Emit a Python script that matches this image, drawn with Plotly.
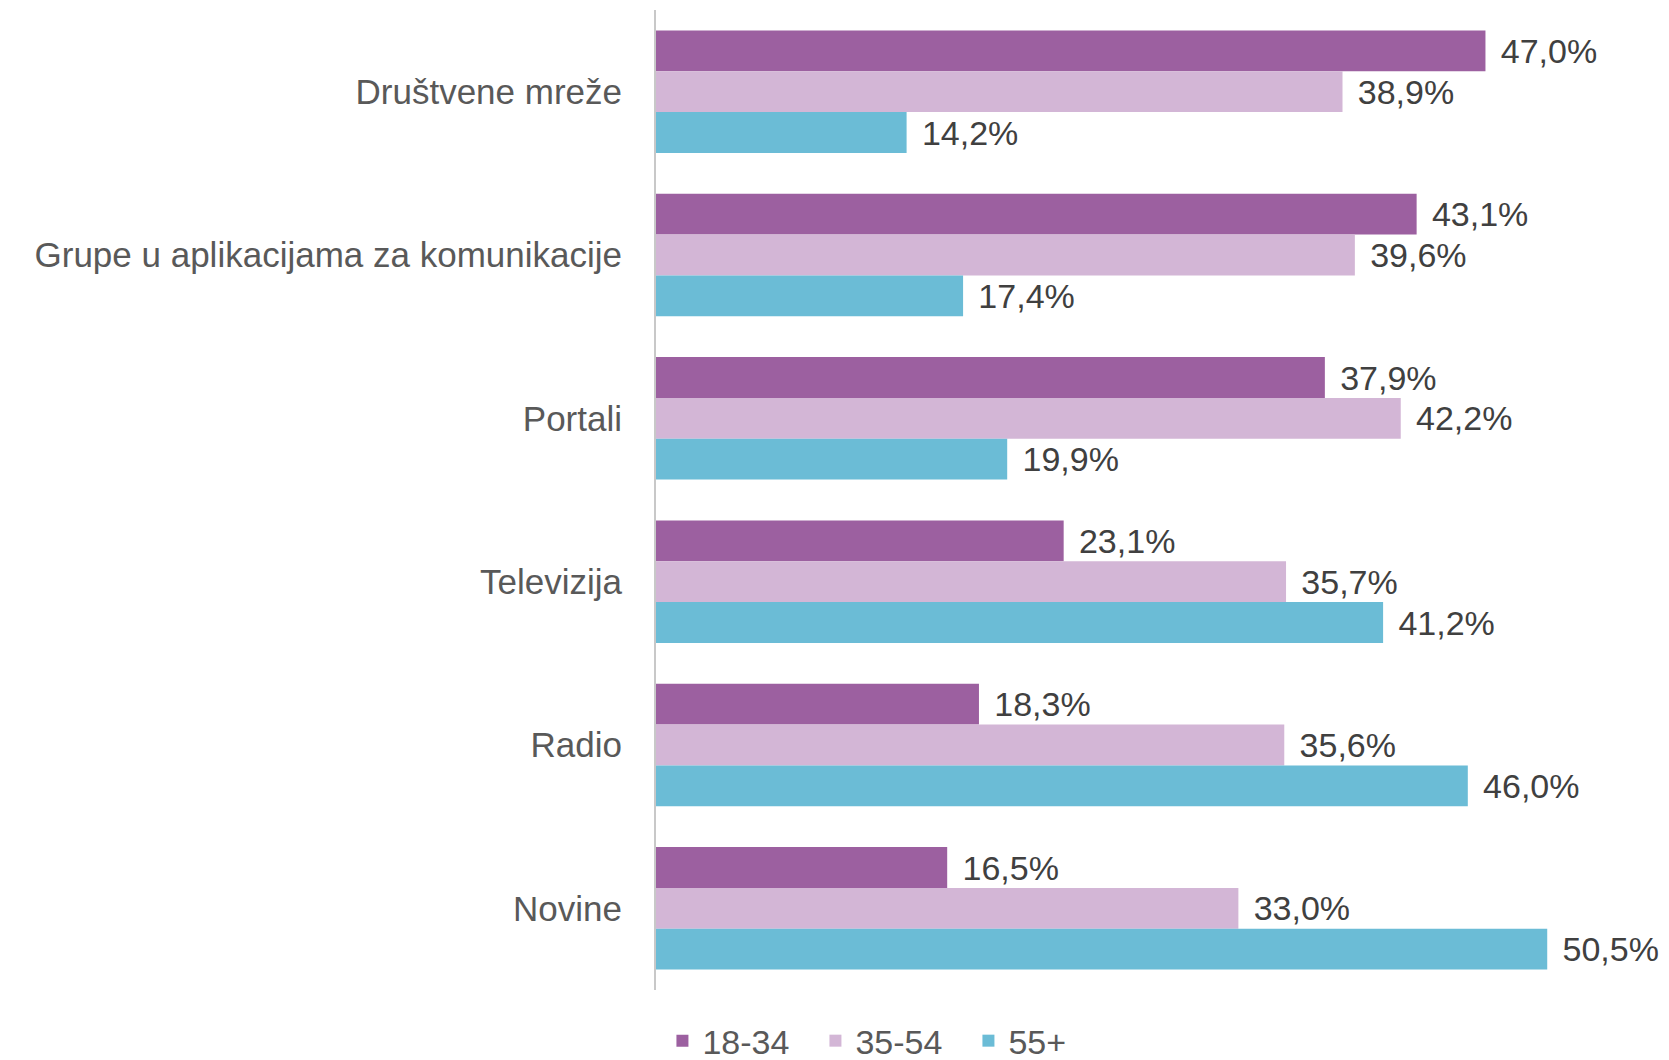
import plotly.graph_objects as go

categories = ["Društvene mreže", "Grupe u aplikacijama za komunikacije", "Portali",
              "Televizija", "Radio", "Novine"]
series_names = ["18-34", "35-54", "55+"]
v_18_34 = [47.0, 43.1, 37.9, 23.1, 18.3, 16.5]
v_35_54 = [38.9, 39.6, 42.2, 35.7, 35.6, 33.0]
v_55 = [14.2, 17.4, 19.9, 41.2, 46.0, 50.5]
colors = ["#9C60A0", "#D3B6D6", "#6BBCD6"]

FONT = "Liberation Sans"
fig = go.Figure()
for name, vals, col in zip(series_names, [v_18_34, v_35_54, v_55], colors):
    fig.add_trace(go.Bar(
        y=categories, x=vals, name=name, orientation="h",
        marker=dict(color=col, line=dict(width=0)),
        texttemplate="\u00a0\u200a%{x:.1f}%", textposition="outside",
        textfont=dict(family=FONT, size=34, color="#404040"),
        cliponaxis=False,
    ))

fig.update_layout(
    width=1661, height=1052,
    margin=dict(l=648, r=0, t=2, b=70),
    barmode="group", bargap=0.25, bargroupgap=0,
    separators=",.",
    plot_bgcolor="white", paper_bgcolor="white",
    font=dict(family=FONT, size=34, color="#595959"),
    xaxis=dict(range=[0, 57.4], showgrid=False, zeroline=False,
               showticklabels=False, ticks=""),
    yaxis=dict(autorange="reversed", showline=True, linecolor="#C8C8C8",
               linewidth=2, ticks="", ticklabelstandoff=25,
               tickfont=dict(family=FONT, size=35, color="#595959")),
    legend=dict(orientation="h", xref="container", yref="container",
                x=0.394, xanchor="left", y=0.018, yanchor="middle",
                font=dict(family=FONT, size=34, color="#595959"),
                itemwidth=30, entrywidth=108, entrywidthmode="pixels",
                traceorder="normal"),
    showlegend=True,
)

fig.write_html("out.html")
